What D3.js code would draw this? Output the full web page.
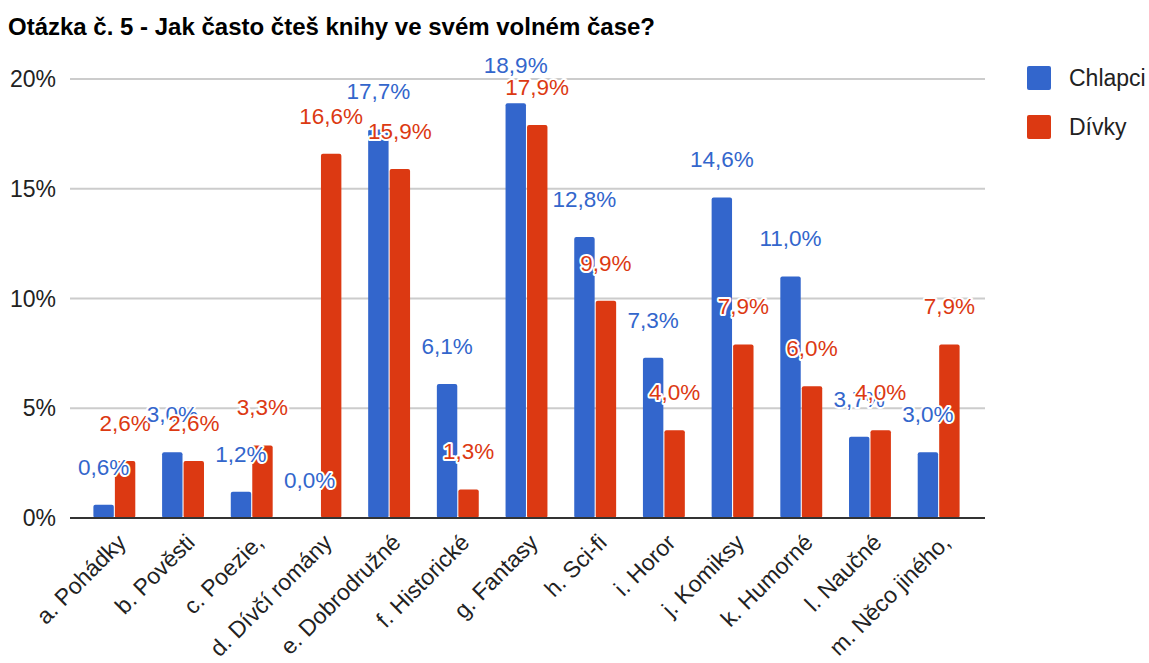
<!DOCTYPE html>
<html lang="cs">
<head>
<meta charset="UTF-8">
<title>Otázka č. 5</title>
<script src="https://d3js.org/d3.v7.min.js"></script>
<style>
    body { margin: 0; background: #fff; font-family: "Liberation Sans", Arial, sans-serif; }
    .title { font-size: 24px; font-weight: bold; fill: #000; }
    .tick-label { font-size: 23px; fill: #222; }
    .cat-label { font-size: 23px; fill: #222; }
    .val-label { font-size: 22.5px; paint-order: stroke; stroke: #fff; stroke-width: 4px; stroke-linejoin: round; }
    .legend-text { font-size: 23px; fill: #222; }
</style>
</head>
<body>
<svg width="1149" height="663"></svg>
<script>
    // data
    const categories = ["a. Pohádky", "b. Pověsti", "c. Poezie,", "d. Dívčí romány", "e. Dobrodružné",
        "f. Historické", "g. Fantasy", "h. Sci-fi", "i. Horor", "j. Komiksy", "k. Humorné", "l. Naučné", "m. Něco jiného,"];
    const seriesNames = ["Chlapci", "Dívky"];
    const chlapci = [0.6, 3.0, 1.2, 0.0, 17.7, 6.1, 18.9, 12.8, 7.3, 14.6, 11.0, 3.7, 3.0];
    const divky = [2.6, 2.6, 3.3, 16.6, 15.9, 1.3, 17.9, 9.9, 4.0, 7.9, 6.0, 4.0, 7.9];
    const yTicks = [0, 5, 10, 15, 20];
    const colors = ["#3366cc", "#dc3912"];

    const svg = d3.select("svg");
    const plot = { left: 70, right: 985, top: 79, bottom: 518 };

    const x0 = d3.scaleBand().domain(categories).range([80, 973]).paddingInner(0.39).paddingOuter(0.195);
    const x1 = d3.scaleBand().domain(seriesNames).range([0, x0.bandwidth()]).paddingInner(0.05);
    const y = d3.scaleLinear().domain([0, 20]).range([plot.bottom, plot.top]);

    svg.append("text").attr("class", "title").attr("x", 8).attr("y", 35)
        .text("Otázka č. 5 - Jak často čteš knihy ve svém volném čase?");

    // grid
    svg.append("g").selectAll("line").data(yTicks.filter(d => d > 0)).join("line")
        .attr("x1", plot.left).attr("x2", plot.right)
        .attr("y1", d => y(d)).attr("y2", d => y(d))
        .attr("stroke", "#cccccc").attr("stroke-width", 2);

    svg.append("g").selectAll("text").data(yTicks).join("text")
        .attr("class", "tick-label")
        .attr("x", 56).attr("y", d => y(d)).attr("dy", "0.35em")
        .attr("text-anchor", "end")
        .text(d => d + "%");

    const rows = categories.map((c, i) => ({ cat: c, vals: [chlapci[i], divky[i]] }));

    const groups = svg.append("g").selectAll("g").data(rows).join("g")
        .attr("transform", d => `translate(${x0(d.cat)},0)`);

    groups.selectAll("rect").data(d => d.vals.map((v, j) => ({ key: seriesNames[j], v, j }))).join("rect")
        .attr("x", d => x1(d.key))
        .attr("width", x1.bandwidth())
        .attr("y", d => y(d.v))
        .attr("height", d => plot.bottom - y(d.v))
        .attr("rx", 2)
        .attr("fill", d => colors[d.j]);

    // axis baseline
    svg.append("line").attr("x1", plot.left).attr("x2", plot.right)
        .attr("y1", plot.bottom).attr("y2", plot.bottom)
        .attr("stroke", "#333").attr("stroke-width", 2);

    // value labels (drawn after all bars, they overlap like in the original)
    const labels = svg.append("g");
    rows.forEach(r => {
        r.vals.forEach((v, j) => {
            labels.append("text")
                .attr("class", "val-label")
                .attr("x", x0(r.cat) + x1(seriesNames[j]) + x1.bandwidth() / 2)
                .attr("y", y(v) - 38).attr("dy", "0.35em")
                .attr("text-anchor", "middle")
                .attr("fill", colors[j])
                .text(v.toFixed(1).replace(".", ",") + "%");
        });
    });

    // category labels
    svg.append("g").selectAll("text").data(categories).join("text")
        .attr("class", "cat-label")
        .attr("text-anchor", "end")
        .attr("transform", d => `translate(${x0(d) + x0.bandwidth() / 2 + 13},${plot.bottom + 26}) rotate(-45)`)
        .text(d => d);

    // legend
    const leg = svg.append("g").selectAll("g").data(seriesNames).join("g")
        .attr("transform", (d, i) => `translate(1027,${66 + i * 49})`);
    leg.append("rect").attr("width", 24).attr("height", 24).attr("rx", 2).attr("fill", (d, i) => colors[i]);
    leg.append("text").attr("class", "legend-text").attr("x", 42).attr("y", 12).attr("dy", "0.35em").text(d => d);
</script>
</body>
</html>
